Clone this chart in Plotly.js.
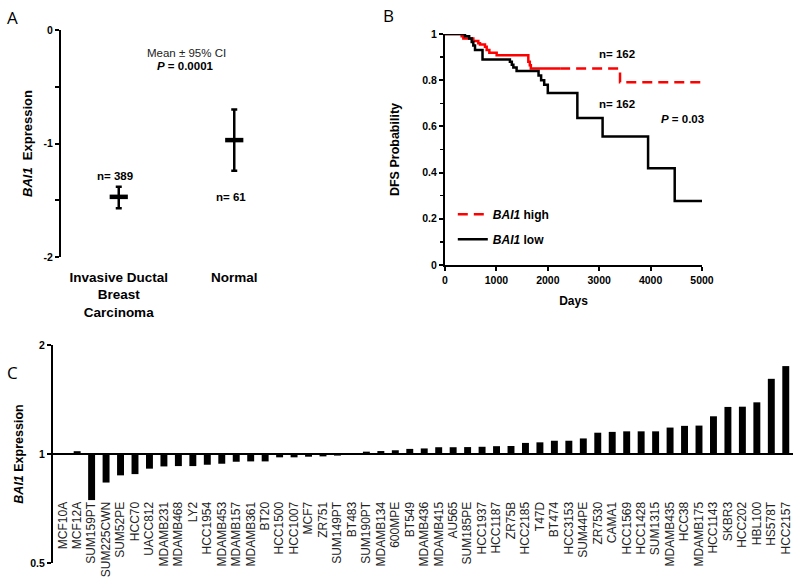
<!DOCTYPE html>
<html><head><meta charset="utf-8">
<script src="https://cdn.plot.ly/plotly-3.0.1.min.js"></script>
<style>html,body{margin:0;padding:0;background:#fff}#chart{width:800px;height:579px}</style>
</head><body><div id="chart"></div>
<script>
// ---------- Panel A: mean ± 95% CI ----------
const groupLabels = ['Invasive Ductal<br>Breast<br>Carcinoma', 'Normal'];
const groupMeans = [-1.47, -0.97];
const groupCIHigh = [-1.38, -0.70];
const groupCILow = [-1.57, -1.24];
const groupN = [389, 61];
const pValueA = '0.0001';

// ---------- Panel B: Kaplan-Meier DFS ----------
const highDays = [0, 324, 357, 551, 648, 681, 778, 811, 863, 1005, 1621, 1650, 1670, 3405, 5000];
const highSurv = [1.0, 0.99, 0.98, 0.97, 0.96, 0.955, 0.945, 0.931, 0.919, 0.908, 0.88, 0.865, 0.851, 0.791, 0.791];
const lowDays = [0, 389, 470, 520, 551, 584, 730, 1263, 1300, 1330, 1393, 1820, 1870, 1930, 2000, 2575, 3066, 3951, 4469, 5000];
const lowSurv = [1.0, 0.99, 0.98, 0.965, 0.95, 0.931, 0.89, 0.88, 0.867, 0.855, 0.84, 0.82, 0.80, 0.78, 0.745, 0.636, 0.556, 0.419, 0.277, 0.277];
const nHigh = 162, nLow = 162;
const pValueB = '0.03';
const highDashFrom = 2240;

// ---------- Panel C: cell lines ----------
const cellLines = ['MCF10A','MCF12A','SUM159PT','SUM225CWN','SUM52PE','HCC70','UACC812','MDAMB231','MDAMB468','LY2',
  'HCC1954','MDAMB453','MDAMB157','MDAMB361','BT20','HCC1500','HCC1007','MCF7','ZR751','SUM149PT',
  'BT483','SUM190PT','MDAMB134','600MPE','BT549','MDAMB436','MDAMB415','AU565','SUM185PE','HCC1937',
  'HCC1187','ZR75B','HCC2185','T47D','BT474','HCC3153','SUM44PE','ZR7530','CAMA1','HCC1569',
  'HCC1428','SUM1315','MDAMB435','HCC38','MDAMB175','HCC1143','SKBR3','HCC202','HBL100','HS578T','HCC2157'];
const expression = [1.0, 1.018, 0.746, 0.834, 0.873, 0.88, 0.911, 0.924, 0.926, 0.926,
  0.934, 0.94, 0.952, 0.954, 0.954, 0.979, 0.979, 0.983, 0.985, 0.99,
  0.999, 1.015, 1.019, 1.024, 1.033, 1.036, 1.044, 1.044, 1.045, 1.047,
  1.051, 1.052, 1.073, 1.077, 1.088, 1.088, 1.104, 1.145, 1.151, 1.155,
  1.155, 1.155, 1.183, 1.196, 1.198, 1.271, 1.349, 1.351, 1.389, 1.613, 1.749];
const expressionBase = 1;

// ---------- build ----------
const FONT = 'Liberation Sans, Arial, Helvetica, sans-serif';
function stepAt(days, surv, t){ let s = surv[0]; for (let i=0;i<days.length;i++){ if (days[i] <= t) s = surv[i]; } return s; }
const hsX = [], hsY = [], hdX = [highDashFrom], hdY = [stepAt(highDays, highSurv, highDashFrom)];
highDays.forEach((d,i) => { if (d <= highDashFrom) { hsX.push(d); hsY.push(highSurv[i]); } else { hdX.push(d); hdY.push(highSurv[i]); } });
hsX.push(highDashFrom); hsY.push(stepAt(highDays, highSurv, highDashFrom));

const traces = [
  { type:'scatter', mode:'markers', x:[0,1], y:groupMeans, xaxis:'x', yaxis:'y', showlegend:false, hoverinfo:'y',
    marker:{symbol:'line-ew', size:13, color:'#000', line:{width:4.5, color:'#000'}},
    error_y:{type:'data', symmetric:false,
      array: groupCIHigh.map((v,i)=>v-groupMeans[i]),
      arrayminus: groupCILow.map((v,i)=>groupMeans[i]-v),
      thickness:2.5, width:3, color:'#000'} },
  { type:'scatter', mode:'lines', x:hsX, y:hsY, xaxis:'x3', yaxis:'y3', showlegend:false, legendgroup:'hi',
    line:{shape:'hv', color:'#ff0000', width:2.5} },
  { type:'scatter', mode:'lines', x:hdX, y:hdY, xaxis:'x3', yaxis:'y3', name:'<i>BAI1</i> high', legendgroup:'hi',
    line:{shape:'hv', color:'#ff0000', width:2.5, dash:'10px,6px'} },
  { type:'scatter', mode:'lines', x:lowDays, y:lowSurv, xaxis:'x3', yaxis:'y3', name:'<i>BAI1</i> low', legendgroup:'lo',
    line:{shape:'hv', color:'#000', width:2.5} },
  { type:'bar', x:cellLines, y:expression.map(v=>v-expressionBase), base:expressionBase, xaxis:'x4', yaxis:'y4',
    showlegend:false, width:0.48, marker:{color:'#000', line:{width:0}} }
];

const axBase = {showgrid:false, zeroline:false, linecolor:'#000', tickcolor:'#000', fixedrange:true};
const bold = {family:FONT, size:10.5, color:'#000', weight:'bold'};
const txtFont = {family:FONT, size:11.5, weight:'bold', color:'#000'};
const letterFont = {family:'Open Sans, DejaVu Sans, sans-serif', size:17, color:'#000'};
function ann(text, x, y, font){ return {text:text, x:x, y:y, xref:'paper', yref:'paper', xanchor:'center', yanchor:'middle', showarrow:false, font:font}; }

const layout = {
  width:800, height:579, margin:{l:0,r:0,t:0,b:0},
  paper_bgcolor:'#fff', plot_bgcolor:'rgba(0,0,0,0)',
  font:{family:FONT, color:'#000', size:11},
  showlegend:true,
  legend:{x:0.566, y:0.655, xanchor:'left', yanchor:'top', bgcolor:'rgba(0,0,0,0)', traceorder:'grouped', tracegroupgap:6,
    font:{family:FONT, size:12, weight:'bold', color:'#000'}},
  xaxis: Object.assign({}, axBase, {domain:[0.07625,0.365], anchor:'y', range:[-0.5,1.5], tickvals:[0,1], ticktext:groupLabels,
    showline:false, ticks:'', ticklabelstandoff:10, tickfont:{family:FONT, size:13.5, weight:'bold', color:'#000'}}),
  xaxis2: Object.assign({}, axBase, {overlaying:'x', side:'top', anchor:'y', range:[-0.5,1.5], tickvals:[0.5,1.5],
    showticklabels:false, showline:true, linewidth:2, ticks:'inside', ticklen:4, tickwidth:2}),
  yaxis: Object.assign({}, axBase, {domain:[0.5561,0.9482], anchor:'x', range:[-2,0], tickvals:[-2,-1.5,-1,-0.5,0],
    ticktext:['-2','','-1','','0'], showline:true, linewidth:2, ticks:'outside', ticklen:4, tickwidth:2, tickfont:bold,
    title:{text:'<i>BAI1</i>  Expression', font:{family:FONT, size:13, weight:'bold', color:'#000'}, standoff:8}}),
  xaxis3: Object.assign({}, axBase, {domain:[0.55625,0.8775], anchor:'y3', range:[0,5000], dtick:1000, tick0:0,
    showline:true, linewidth:2, ticks:'outside', ticklen:4, tickwidth:2, tickfont:bold,
    title:{text:'Days', font:{family:FONT, size:12, weight:'bold', color:'#000'}, standoff:12}}),
  yaxis3: Object.assign({}, axBase, {domain:[0.5423,0.9413], anchor:'x3', range:[0,1], dtick:0.2, tick0:0,
    showline:true, linewidth:2, ticks:'outside', ticklen:4, tickwidth:2, tickfont:bold,
    minor:{dtick:0.1, ticks:'outside', ticklen:3, tickwidth:1.5, tickcolor:'#000', showgrid:false},
    title:{text:'DFS Probability', font:{family:FONT, size:12.5, weight:'bold', color:'#000'}, standoff:20}}),
  xaxis4: Object.assign({}, axBase, {domain:[0.06625,0.99125], anchor:'free', position:0.2159, type:'category', range:[-0.67,50.5],
    showline:true, linewidth:2, ticks:'', tickangle:-90, ticklabelstandoff:42,
    tickfont:{family:FONT, size:12, color:'#222'}}),
  yaxis4: Object.assign({}, axBase, {domain:[0.02763,0.40415], anchor:'x4', type:'log', range:[Math.log10(0.5), Math.log10(2)],
    tickvals:[0.5,1,2], ticktext:['0.5','1','2'], showline:true, linewidth:2, ticks:'outside', ticklen:4, tickwidth:2, tickfont:bold,
    title:{text:'<i>BAI1</i> Expression', font:{family:FONT, size:12.5, weight:'bold', color:'#000'}, standoff:4}}),
  annotations: [
    ann('A', 0.015, 0.9706, letterFont),
    ann('B', 0.485, 0.974, letterFont),
    ann('C', 0.015, 0.3575, letterFont),
    ann('Mean ± 95% CI', 0.2325, 0.909, {family:FONT, size:11.5, color:'#222'}),
    ann('<i>P</i> = ' + pValueA, 0.2313, 0.886, txtFont),
    ann('n= ' + groupN[0], 0.144, 0.696, txtFont),
    ann('n= ' + groupN[1], 0.289, 0.66, txtFont),
    ann('n= ' + nHigh, 0.771, 0.9067, txtFont),
    ann('n= ' + nLow, 0.771, 0.8204, txtFont),
    ann('<i>P</i> = ' + pValueB, 0.8525, 0.7945, txtFont)
  ]
};

Plotly.newPlot('chart', traces, layout, {staticPlot:true, displayModeBar:false});
</script>
</body></html>
